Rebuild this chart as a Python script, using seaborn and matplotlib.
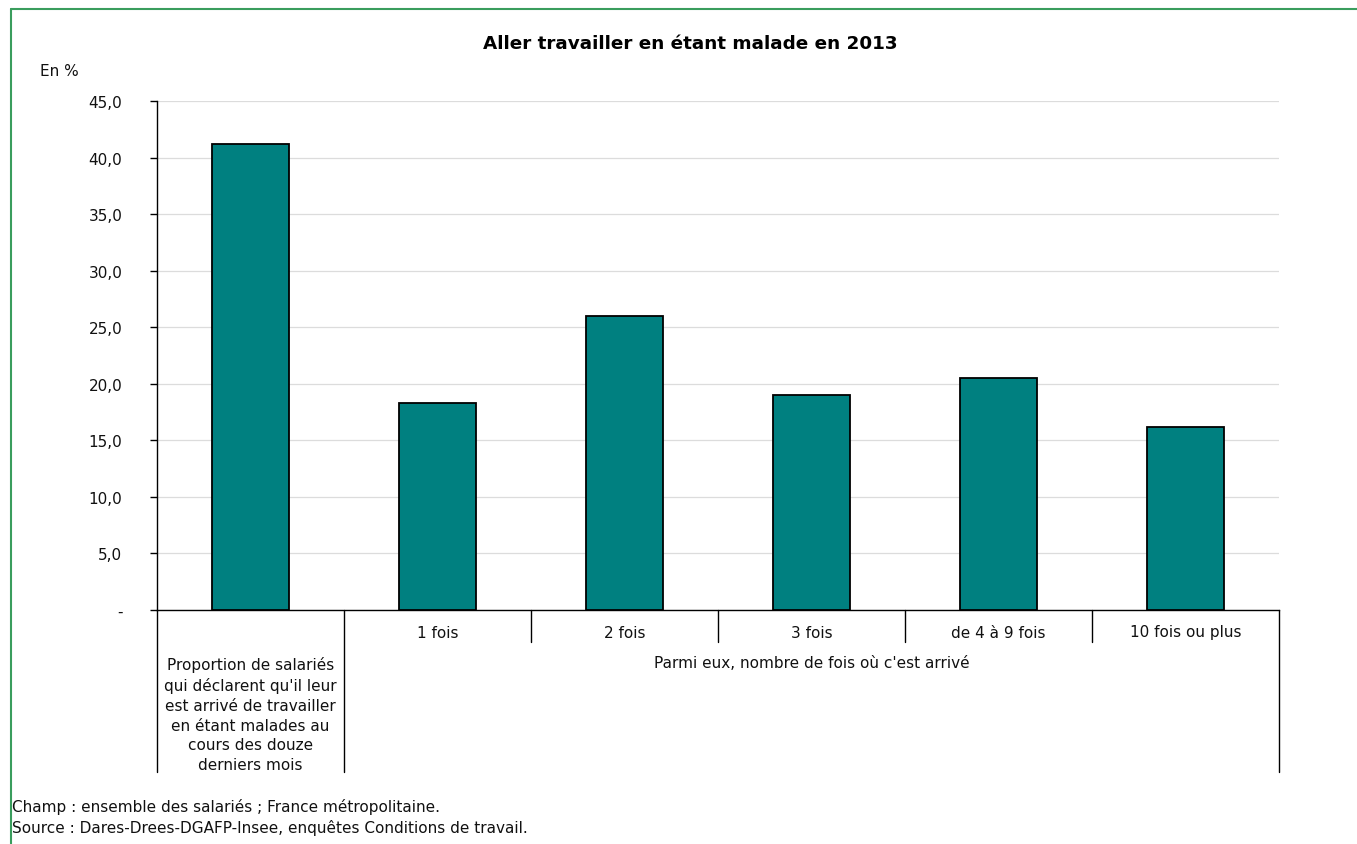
import matplotlib
matplotlib.use("Agg")
import matplotlib.pyplot as plt
import seaborn as sns
import pandas as pd
import numpy as np
from matplotlib.lines import Line2D

# ---- data ----
categories = [
    "Proportion de salariés\nqui déclarent qu'il leur\nest arrivé de travailler\nen étant malades au\ncours des douze\nderniers mois",
    "1 fois", "2 fois", "3 fois", "de 4 à 9 fois", "10 fois ou plus",
]
values = [41.2, 18.3, 26.0, 19.0, 20.5, 16.2]
group_label = "Parmi eux, nombre de fois où c'est arrivé"
ytick_values = [0, 5, 10, 15, 20, 25, 30, 35, 40, 45]
ytick_labels = ["-", "5,0", "10,0", "15,0", "20,0", "25,0", "30,0", "35,0", "40,0", "45,0"]
title = "Aller travailler en étant malade en 2013"
unit_label = "En %"
footer = ["Champ : ensemble des salariés ; France métropolitaine.",
          "Source : Dares-Drees-DGAFP-Insee, enquêtes Conditions de travail."]

sns.set_theme(style="white")
plt.rcParams['font.family'] = ['DejaVu Sans']

FS = 11
W, H = 1357, 845
fig = plt.figure(figsize=(W / 100, H / 100), dpi=100)
ax = fig.add_axes([157 / W, 1 - 610.7 / H, (1279 - 157) / W, (610.7 - 102) / H])

df = pd.DataFrame({"idx": list(range(len(values))), "val": values})
sns.barplot(data=df, x="idx", y="val", color="#008080", width=0.41,
            edgecolor="black", linewidth=1.3, saturation=1, ax=ax, zorder=3)

ax.set_xlim(-0.5, len(values) - 0.5)
ax.set_ylim(0, 45)
ax.set_yticks(ytick_values)
ax.set_yticklabels(ytick_labels, fontsize=FS, color="#111111")
ax.set_xticks([])
ax.set_xlabel("")
ax.set_ylabel("")
ax.yaxis.grid(True, color="#dcdcdc", linewidth=0.9, zorder=0)
ax.set_axisbelow(True)
ax.tick_params(axis="y", which="both", left=True, length=5, width=1, color="black", pad=20)
for s in ["top", "right"]:
    ax.spines[s].set_visible(False)
for s in ["left", "bottom"]:
    ax.spines[s].set_color("black")
    ax.spines[s].set_linewidth(1)

trans = ax.get_xaxis_transform()
hpx = 610.7 - 102
short_y = -(643 - 610.7) / hpx
long_y = -(773 - 610.7) / hpx
n = len(values)
for i in range(n + 1):
    xb = i - 0.5
    yend = long_y if i in (0, 1, n) else short_y
    ax.add_line(Line2D([xb, xb], [0, yend], transform=trans, color="black",
                       linewidth=1, clip_on=False))

tick_y = -(633 - 610.7) / hpx
for i in range(1, n):
    ax.text(i, tick_y, categories[i], transform=trans, ha="center", va="center",
            fontsize=FS, color="#111111")
ax.text(0, -(715 - 610.7) / hpx, categories[0], transform=trans,
        ha="center", va="center", fontsize=FS, color="#111111", linespacing=1.4)
ax.text((1 + n - 1) / 2, -(664 - 610.7) / hpx, group_label, transform=trans,
        ha="center", va="center", fontsize=FS, color="#111111")

fig.text(690 / W, 1 - 44 / H, title, ha="center", va="center", fontsize=13.2,
         fontweight="bold", color="black")
fig.text(40 / W, 1 - 72 / H, unit_label, ha="left", va="center", fontsize=FS, color="#111111")
fig.text(12 / W, 1 - 807 / H, footer[0], ha="left", va="center", fontsize=FS, color="#111111")
fig.text(12 / W, 1 - 828 / H, footer[1], ha="left", va="center", fontsize=FS, color="#111111")

# green frame (top and left)
green = "#3a9d5d"
fig.add_artist(Line2D([11 / W, 11 / W], [0, 1 - 10 / H], transform=fig.transFigure,
                      color=green, linewidth=1.5))
fig.add_artist(Line2D([11 / W, 1], [1 - 10 / H, 1 - 10 / H], transform=fig.transFigure,
                      color=green, linewidth=1.5))

fig.savefig("out.png", dpi=100, facecolor="white")
